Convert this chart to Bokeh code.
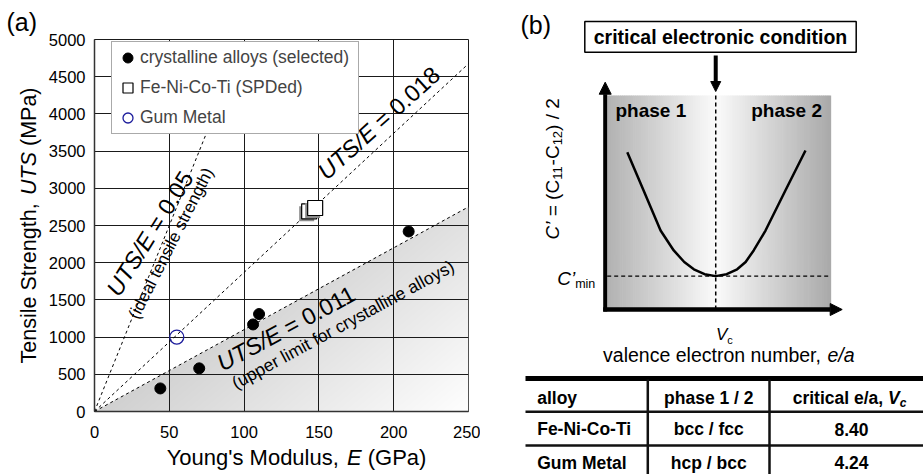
import numpy as np
from bokeh.plotting import figure
from bokeh.models import Range1d, Label, Legend, LegendItem, Arrow, NormalHead, FixedTicker
from bokeh.layouts import row, column
from bokeh.embed import file_html
from bokeh.resources import INLINE

FONT = "Liberation Sans"

# ---------------- panel (a) data ----------------
crystalline_E = [44, 70, 106, 110, 210]
crystalline_UTS = [310, 580, 1170, 1310, 2420]
spd_E = [143.5, 147.5]
spd_UTS = [2690, 2735]
gum_E = [55]
gum_UTS = [1000]
ratio_text = ["0.05", "0.018", "0.011"]
ratio_slope = [50.0, 18.7, 11.0]          # slope of drawn ratio lines, MPa per GPa
ratio_note = ["(ideal tensile strength)", "", "(upper limit for crystalline alloys)"]
x_ticks = [0, 50, 100, 150, 200, 250]
y_ticks = [0, 500, 1000, 1500, 2000, 2500, 3000, 3500, 4000, 4500, 5000]
legend_labels = ["crystalline alloys (selected)", "Fe-Ni-Co-Ti (SPDed)", "Gum Metal"]

# ---------------- panel (b) schematic (relative units) ----------------
ea_rel = [0.090, 0.163, 0.239, 0.298, 0.345, 0.388, 0.436, 0.486, 0.535, 0.582, 0.620, 0.656, 0.709, 0.798, 0.888]
cprime_rel = [0.735, 0.556, 0.369, 0.276, 0.222, 0.188, 0.165, 0.156, 0.165, 0.188, 0.222, 0.276, 0.369, 0.556, 0.743]
Vc_rel = 0.486
Cmin_rel = 0.156

# ---------------- table ----------------
table_header = ["alloy", "phase 1 / 2"]
table_alloy = ["Fe-Ni-Co-Ti", "Gum Metal"]
table_phase = ["bcc / fcc", "hcp / bcc"]
table_vc = ["8.40", "4.24"]

# ---------------- text width helper (Arial metrics) ----------------
REG = {' ': 278, "'": 191, '(': 333, ')': 333, ',': 278, '-': 333, '.': 278, '/': 278, '=': 584, '\u2019': 222,
       'A': 667, 'B': 667, 'C': 722, 'D': 722, 'E': 667, 'F': 611, 'G': 778, 'H': 722, 'I': 278, 'J': 500,
       'K': 667, 'L': 556, 'M': 833, 'N': 722, 'O': 778, 'P': 667, 'Q': 778, 'R': 722, 'S': 667, 'T': 611,
       'U': 722, 'V': 667, 'W': 944, 'X': 667, 'Y': 667, 'Z': 611,
       'a': 556, 'b': 556, 'c': 500, 'd': 556, 'e': 556, 'f': 278, 'g': 556, 'h': 556, 'i': 222, 'j': 222,
       'k': 500, 'l': 222, 'm': 833, 'n': 556, 'o': 556, 'p': 556, 'q': 556, 'r': 333, 's': 500, 't': 278,
       'u': 556, 'v': 500, 'w': 722, 'x': 500, 'y': 500, 'z': 500}
BOLD = dict(REG)
BOLD.update({'A': 722, 'B': 722, 'b': 611, 'c': 556, 'd': 611, 'f': 333, 'g': 611, 'h': 611, 'i': 278,
             'j': 278, 'k': 556, 'l': 278, 'm': 889, 'n': 611, 'o': 611, 'p': 611, 'q': 611, 'r': 389,
             's': 556, 't': 333, 'u': 611, 'v': 556, 'w': 778, 'x': 556, 'y': 556, 'z': 500, "'": 238})
MID = 0.3465   # (ascent - descent) / 2 for Liberation Sans, in em


def tw(s, size, style="normal"):
    tbl = BOLD if "bold" in style else REG
    return sum(tbl.get(ch, 556) for ch in s) * size / 1000.0


def rich(p, x, y, parts, angle_deg=0.0, align="left", color="black"):
    """parts: (text, size, style, dy) ; (x, y) is the baseline start / centre."""
    a = np.radians(angle_deg)
    total = sum(tw(t, s, st) for t, s, st, dy in parts)
    cum = {"left": 0.0, "center": -total / 2.0, "right": -total}[align]
    for t, s, st, dy in parts:
        lead = len(t) - len(t.lstrip(" "))
        trail = len(t) - len(t.rstrip(" "))
        core = t.strip(" ")
        cum += tw(" " * lead, s, st)
        up = dy + MID * s
        xo = cum * np.cos(a) - up * np.sin(a)
        yo = cum * np.sin(a) + up * np.cos(a)
        p.add_layout(Label(x=x, y=y, x_offset=xo, y_offset=yo, text=core, angle=a,
                           text_align="left", text_baseline="middle", text_font=FONT,
                           text_font_size=f"{s}px", text_font_style=st, text_color=color))
        cum += tw(core, s, st) + tw(" " * trail, s, st)


def blank(w, h, x0, x1, y_bottom, y_top):
    f = figure(width=w, height=h, x_range=Range1d(x0, x1), y_range=Range1d(y_bottom, y_top),
               x_axis_type=None, y_axis_type=None, min_border=0, outline_line_color=None,
               toolbar_location=None, output_backend="svg")
    f.background_fill_color = "white"
    f.border_fill_color = "white"
    return f


# ======================= panel (a) =======================
LEFT_W = 45            # strip holding "(a)" and the y title
PA_W, PA_H = 480 - LEFT_W, 444
FRAME_L, FRAME_B = 93, 411
ML = FRAME_L - LEFT_W
MR, MT, MB = 12, 39, PA_H - FRAME_B
pa = figure(width=PA_W, height=PA_H, x_range=Range1d(x_ticks[0], x_ticks[-1]),
            y_range=Range1d(y_ticks[0], y_ticks[-1]),
            min_border_left=ML, min_border_right=MR, min_border_top=MT, min_border_bottom=MB,
            output_backend="svg", toolbar_location=None)
SX = (PA_W - ML - MR) / (x_ticks[-1] - x_ticks[0])
SY = (PA_H - MT - MB) / (y_ticks[-1] - y_ticks[0])


def A(px, py):
    return (px - FRAME_L) / SX, (FRAME_B - py) / SY


pa.background_fill_color = "white"
pa.outline_line_color = "#1a1a1a"
pa.outline_line_width = 1
for ax, tk in ((pa.xaxis[0], x_ticks), (pa.yaxis[0], y_ticks)):
    ax.ticker = FixedTicker(ticks=tk)
    ax.major_tick_in = 0
    ax.major_tick_out = 0
    ax.minor_tick_in = 0
    ax.minor_tick_out = 0
    ax.major_label_text_font = FONT
    ax.major_label_text_font_size = "16.5px"
    ax.major_label_text_color = "black"
    ax.axis_line_color = "#333333"
    ax.axis_line_width = 1.5
pa.xaxis[0].major_label_standoff = 14
pa.yaxis[0].major_label_standoff = 9
pa.xgrid.grid_line_color = "#1a1a1a"
pa.ygrid.grid_line_color = "#1a1a1a"
pa.xgrid.grid_line_width = 1
pa.ygrid.grid_line_width = 1

# shaded wedge below the upper-limit line (gradient)
nx, ny = PA_W - ML - MR, PA_H - MT - MB
Ec = (np.arange(nx) + 0.5) / nx * x_ticks[-1]
Uc = (np.arange(ny) + 0.5) / ny * y_ticks[-1]
EE, UU = np.meshgrid(Ec, Uc)
dist = (ratio_slope[2] * EE - UU) * SY
alpha = np.clip(dist + 0.5, 0, 1) * 255
gray = np.clip(208 + 0.124 * EE * SX - 0.15 * UU * SY, 200, 253)
img = np.zeros((ny, nx), dtype=np.uint32)
view = img.view(dtype=np.uint8).reshape((ny, nx, 4))
view[..., 0] = gray.astype(np.uint8)
view[..., 1] = gray.astype(np.uint8)
view[..., 2] = gray.astype(np.uint8)
view[..., 3] = alpha.astype(np.uint8)
ir = pa.image_rgba(image=[img], x=x_ticks[0], y=y_ticks[0], dw=x_ticks[-1], dh=y_ticks[-1])
ir.level = "image"

# ratio lines
for s in ratio_slope:
    pa.line([0, x_ticks[-1]], [0, s * x_ticks[-1]], line_color="black", line_width=1, line_dash="3 3")

# markers
r_cr = pa.scatter(crystalline_E, crystalline_UTS, marker="circle", size=11,
                  fill_color="black", line_color="black")
r_sq = None
for e, u in zip(spd_E, spd_UTS):
    pa.scatter([e - 2.5 / SX], [u - 2.5 / SY], marker="square", size=15,
               fill_color="#8c8c8c", line_color=None)
    r_sq = pa.scatter([e], [u], marker="square", size=15, fill_color="white",
                      line_color="black", line_width=1.2)
r_gum = pa.scatter(gum_E, gum_UTS, marker="circle", size=14, fill_color=None,
                   line_color="#1c1c9c", line_width=1.3)

legend = Legend(items=[LegendItem(label=legend_labels[0], renderers=[r_cr]),
                       LegendItem(label=legend_labels[1], renderers=[r_sq]),
                       LegendItem(label=legend_labels[2], renderers=[r_gum])],
                location=(17, 277), label_text_font=FONT, label_text_font_size="17.5px",
                glyph_width=25, glyph_height=25, label_height=25, label_width=215,
                label_standoff=0, spacing=5, padding=3, margin=0,
                border_line_color="#555555", border_line_width=1,
                background_fill_color="white", background_fill_alpha=1.0)
pa.add_layout(legend)

# ratio labels
x0, y0 = A(118.0, 297.5)
rich(pa, x0, y0, [("UTS/E", 23.5, "italic", 0), (" = " + ratio_text[0], 23.5, "normal", 0)], 58)
x0, y0 = A(137.0, 320.0)
rich(pa, x0, y0, [(ratio_note[0], 17, "normal", 0)], 63)
x0, y0 = A(326.0, 180.5)
rich(pa, x0, y0, [("UTS/E", 23.5, "italic", 0), (" = " + ratio_text[1], 23.5, "normal", 0)], 42)
x0, y0 = A(221.5, 371.5)
rich(pa, x0, y0, [("UTS/E", 23.5, "italic", 0), (" = " + ratio_text[2], 23.5, "normal", 0)], 28.3)
x0, y0 = A(235.0, 389.0)
rich(pa, x0, y0, [(ratio_note[2], 17.5, "normal", 0)], 28.5)

# left strip: "(a)" and y title  (page pixel coordinates, y downwards)
pl = blank(LEFT_W, 474, 0, LEFT_W, 474, 0)
rich(pl, 35.5, 225, [("Tensile Strength, ", 21.5, "normal", 0), ("UTS", 21.5, "italic", 0),
                     (" (MPa)", 21.5, "normal", 0)], 90, align="center")
rich(pl, 6, 30, [("(a)", 25, "normal", 0)])

# bottom strip: x title
pxt = blank(PA_W, 474 - PA_H, LEFT_W, 480, 474, PA_H)
rich(pxt, 280, 465, [("Young's Modulus, ", 22, "normal", 0), ("E", 22, "italic", 0),
                     (" (GPa)", 22, "normal", 0)], 0, align="center")

# ======================= panel (b) =======================
PB_X0, PB_W, PB_H = 480, 443, 370
BOX_L, BOX_R, BOX_T, BOX_B = 606.7, 830.0, 95.0, 309.0
BW, BH = BOX_R - BOX_L, BOX_B - BOX_T


def U(px):
    return (px - BOX_L) / BW


def V(py):
    return (BOX_B - py) / BH


pb = blank(PB_W, PB_H, U(PB_X0), U(PB_X0 + PB_W), V(PB_H), V(0))

# gradient background
n = 120
edges = np.linspace(0, 1, n + 1)
cent = (edges[:-1] + edges[1:]) / 2
gl = np.where(cent < Vc_rel, 178 + (251 - 178) * (cent / Vc_rel),
              251 - (251 - 170) * ((cent - Vc_rel) / (1 - Vc_rel)))
cols = ["#%02x%02x%02x" % (int(g), int(g), int(g)) for g in gl]
pb.quad(left=edges[:-1], right=edges[1:] + 0.003, bottom=0, top=1, fill_color=cols, line_color=None)

# dashed guides
pb.line([Vc_rel, Vc_rel], [0, 1], line_color="black", line_width=1.5, line_dash="4 3")
pb.line([0, 1], [Cmin_rel, Cmin_rel], line_color="black", line_width=1.2, line_dash="4 3")

# curve
pb.line(ea_rel, cprime_rel, line_color="black", line_width=2.5)

# axes arrows
pb.add_layout(Arrow(end=NormalHead(size=12, fill_color="black", line_color="black"),
                    x_start=U(604.7), y_start=V(311), x_end=U(604.7), y_end=V(81.7),
                    line_width=4, line_color="black"))
pb.add_layout(Arrow(end=NormalHead(size=12, fill_color="black", line_color="black"),
                    x_start=U(602.7), y_start=0, x_end=U(841.7), y_end=0,
                    line_width=4.5, line_color="black"))
# critical condition arrow
pb.add_layout(Arrow(end=NormalHead(size=10, fill_color="black", line_color="black"),
                    x_start=Vc_rel, y_start=V(55), x_end=Vc_rel, y_end=V(91),
                    line_width=4, line_color="black"))

# box
pb.quad(left=U(584.3), right=U(855.7), bottom=V(51.7), top=V(21), fill_color="white",
        line_color="black", line_width=1.5)
rich(pb, U(720), V(43.5), [("critical electronic condition", 19.5, "bold", 0)], 0, align="center")

rich(pb, U(615), V(117), [("phase 1", 19, "bold", 0)])
rich(pb, U(750.7), V(117), [("phase 2", 19, "bold", 0)])

rich(pb, U(559), V(239), [("C\u2019", 19, "italic", 0), (" = (C", 19, "normal", 0),
                          ("11", 13, "normal", -3), ("-C", 19, "normal", 0),
                          ("12", 13, "normal", -3), (") / 2", 19, "normal", 0)], 90)
rich(pb, U(556.7), V(285), [("C\u2019", 19, "italic", 0), ("min", 12.5, "normal", -2.5)])
rich(pb, U(715.5), V(340), [("V", 17, "italic", 0), ("c", 11, "normal", -3)])
rich(pb, U(728.3), V(361.5), [("valence electron number, ", 19.5, "normal", 0),
                              ("e/a", 19.5, "italic", 0)], 0, align="center")
rich(pb, U(520), V(33), [("(b)", 25, "normal", 0)])

# ======================= table =======================
PT_H = 474 - PB_H
pt = blank(PB_W, PT_H, PB_X0, PB_X0 + PB_W, 474, PB_H)
right_edge = PB_X0 + PB_W
pt.segment(x0=525, y0=378, x1=right_edge, y1=378, line_color="black", line_width=5)
pt.segment(x0=525, y0=411.3, x1=right_edge, y1=411.3, line_color="#111111", line_width=2.5)
pt.segment(x0=525, y0=445, x1=right_edge, y1=445, line_color="#111111", line_width=2.5)
pt.segment(x0=[647.3, 769.0], y0=[379, 379], x1=[647.3, 769.0], y1=[474, 474],
           line_color="#111111", line_width=2.5)

row_base = [403.3, 435.0, 468.3]
col1_left, col2_c, col3_c = 536.7, 708.3, 849.0
TS = 17.5
rich(pt, col1_left, row_base[0], [(table_header[0], TS, "bold", 0)])
rich(pt, col2_c, row_base[0], [(table_header[1], TS, "bold", 0)], align="center")
rich(pt, col3_c, row_base[0], [("critical e/a, ", TS, "bold", 0), ("V", TS, "bold italic", 0),
                               ("c", 12, "bold italic", -3)], 0, align="center")
for i in range(len(table_alloy)):
    rich(pt, col1_left, row_base[i + 1], [(table_alloy[i], TS, "bold", 0)])
    rich(pt, col2_c, row_base[i + 1], [(table_phase[i], TS, "bold", 0)], align="center")
    rich(pt, col3_c + 2, row_base[i + 1], [(table_vc[i], TS, "bold", 0)], align="center")

layout = row(pl, column(pa, pxt), column(pb, pt))
open("out.html", "w").write(file_html(layout, INLINE))
